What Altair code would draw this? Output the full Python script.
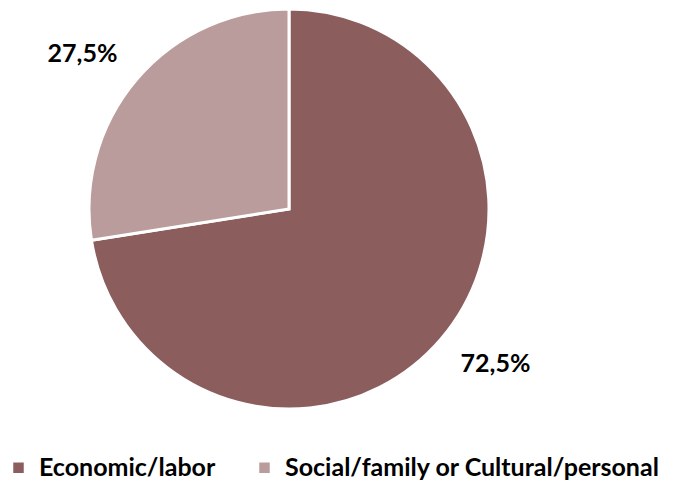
import altair as alt
import pandas as pd

categories = ["Economic/labor", "Social/family or Cultural/personal"]
values = [72.5, 27.5]
labels = ["72,5%", "27,5%"]
colors = ["#8B5E5D", "#B99C9B"]

df = pd.DataFrame({"cat": categories, "val": values, "lab": labels, "order": [0, 1]})

base = alt.Chart(df).encode(
    theta=alt.Theta("val:Q", stack=True),
    order=alt.Order("order:Q"),
)

pie = base.mark_arc(outerRadius=200, stroke="white", strokeWidth=3).encode(
    color=alt.Color(
        "cat:N",
        sort=categories,
        scale=alt.Scale(domain=categories, range=colors),
        legend=alt.Legend(
            title=None,
            orient="none",
            legendX=-2,
            legendY=447,
            direction="horizontal",
            symbolType="square",
            symbolSize=110,
            symbolStrokeWidth=0,
            labelFont="Lato",
            labelFontWeight="bold",
            labelFontSize=25,
            labelColor="black",
            labelOffset=8,
            columnPadding=36,
            padding=0,
            labelLimit=500,
        ),
    )
)

text = base.mark_text(
    radius=258, thetaOffset=-0.064, font="Lato", fontWeight="bold", fontSize=25, color="black"
).encode(text="lab:N")

chart = (pie + text).properties(
    width=562,
    height=402,
    padding={"left": 0, "top": 0, "right": 95, "bottom": 74},
    autosize=alt.AutoSizeParams(type="none"),
).configure_view(stroke=None)

chart.save("out.html", embed_options={"renderer": "svg", "actions": False})
